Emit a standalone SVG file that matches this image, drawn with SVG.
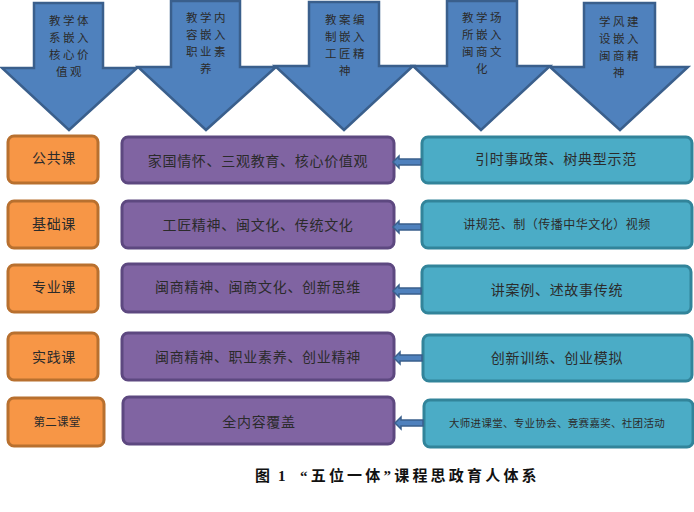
<svg xmlns="http://www.w3.org/2000/svg" width="694" height="512" viewBox="0 0 694 512">
<style>
.ar{fill:#4F81BD;stroke:#3A5F8C;stroke-width:2.5;stroke-linejoin:miter}
.t{font-family:"Noto Sans CJK SC","Liberation Sans",sans-serif;fill:#2b2b2b;text-anchor:middle}
.at{font-size:11.5px;letter-spacing:2.5px}
.or{fill:#F79646;stroke:#B8702F;stroke-width:3}
.pu{fill:#8064A2;stroke:#5D4880;stroke-width:3}
.te{fill:#4BACC6;stroke:#32849A;stroke-width:3}
.la{fill:#4F81BD;stroke:#3A5F8C;stroke-width:1.5}
.bt{font-size:14px;letter-spacing:0.7px}
</style>
<rect width="694" height="512" fill="#fff"/>
<g id="arrow1"><polygon class="ar" points="34,3 103,3 103,68 137,68 69,130 2,68 34,68"/>
<text class="t at"><tspan x="70" y="25">教学体</tspan><tspan x="70" y="42">系嵌入</tspan><tspan x="70" y="59">核心价</tspan><tspan x="70" y="76">值观</tspan></text></g>
<g id="arrow2"><polygon class="ar" points="171,1 240,1 240,67 276,67 206,130 138,67 171,67"/>
<text class="t at"><tspan x="207" y="22">教学内</tspan><tspan x="207" y="39">容嵌入</tspan><tspan x="207" y="56">职业素</tspan><tspan x="207" y="73">养</tspan></text></g>
<g id="arrow3"><polygon class="ar" points="309,2 379,2 379,66 413,66 344,130 275,66 309,66"/>
<text class="t at"><tspan x="346" y="24">教案编</tspan><tspan x="346" y="41">制嵌入</tspan><tspan x="346" y="58">工匠精</tspan><tspan x="346" y="75">神</tspan></text></g>
<g id="arrow4"><polygon class="ar" points="447,1 517,1 517,66 550,66 481,130 413,66 447,66"/>
<text class="t at"><tspan x="483" y="22">教学场</tspan><tspan x="483" y="39">所嵌入</tspan><tspan x="483" y="56">闽商文</tspan><tspan x="483" y="73">化</tspan></text></g>
<g id="arrow5"><polygon class="ar" points="584,3 655,3 655,67 688,67 620,130 550,67 584,67"/>
<text class="t at"><tspan x="620" y="26">学风建</tspan><tspan x="620" y="43">设嵌入</tspan><tspan x="620" y="60">闽商精</tspan><tspan x="620" y="77">神</tspan></text></g>

<g id="course1"><rect class="or" x="8" y="136" width="90" height="47" rx="6"/><text class="t bt" x="54" y="163">公共课</text></g>
<g id="course2"><rect class="or" x="8" y="201" width="90" height="47" rx="6"/><text class="t bt" x="54" y="229">基础课</text></g>
<g id="course3"><rect class="or" x="8" y="265" width="90" height="47" rx="6"/><text class="t bt" x="54" y="292">专业课</text></g>
<g id="course4"><rect class="or" x="8" y="333" width="90" height="47" rx="6"/><text class="t bt" x="54" y="362">实践课</text></g>
<g id="course5"><rect class="or" x="8" y="398" width="96" height="48" rx="6"/><text class="t" style="font-size:11.5px;letter-spacing:0.3px" x="57" y="426">第二课堂</text></g>

<g id="content1"><rect class="pu" x="122" y="137" width="272" height="46" rx="6"/><text class="t bt" x="258" y="166">家国情怀、三观教育、核心价值观</text></g>
<g id="content2"><rect class="pu" x="122" y="201" width="272" height="47" rx="6"/><text class="t bt" x="258" y="230">工匠精神、闽文化、传统文化</text></g>
<g id="content3"><rect class="pu" x="122" y="264" width="272" height="48" rx="6"/><text class="t bt" x="258" y="292">闽商精神、闽商文化、创新思维</text></g>
<g id="content4"><rect class="pu" x="122" y="333" width="272" height="47" rx="6"/><text class="t bt" x="258" y="362">闽商精神、职业素养、创业精神</text></g>
<g id="content5"><rect class="pu" x="123" y="397" width="271" height="47" rx="6"/><text class="t bt" x="259" y="427">全内容覆盖</text></g>

<g id="method1"><rect class="te" x="422" y="137" width="270" height="46" rx="6"/><text class="t bt" x="556" y="164">引时事政策、树典型示范</text></g>
<g id="method2"><rect class="te" x="422" y="201" width="270" height="47" rx="6"/><text class="t" style="font-size:12px;letter-spacing:0.5px" x="557" y="229">讲规范、制（传播中华文化）视频</text></g>
<g id="method3"><rect class="te" x="422" y="266" width="269" height="47" rx="6"/><text class="t bt" x="557" y="295">讲案例、述故事传统</text></g>
<g id="method4"><rect class="te" x="423" y="335" width="269" height="46" rx="6"/><text class="t bt" x="557" y="363">创新训练、创业模拟</text></g>
<g id="method5"><rect class="te" x="424" y="400" width="269" height="47" rx="6"/><text class="t" style="font-size:10.5px;letter-spacing:0.3px" x="557" y="427">大师进课堂、专业协会、竞赛嘉奖、社团活动</text></g>

<g id="connectors">
<polygon class="la" points="421,159 399,159 399,156 393,162 399,168 399,165 421,165"/>
<polygon class="la" points="421,224 399,224 399,221 393,227 399,233 399,230 421,230"/>
<polygon class="la" points="421,288 399,288 399,285 393,291 399,297 399,294 421,294"/>
<polygon class="la" points="422,355 400,355 400,352 394,358 400,364 400,361 422,361"/>
<polygon class="la" points="423,420 401,420 401,417 395,423 401,429 401,426 423,426"/>
</g>

<text y="481" style="font-family:'Liberation Serif','Noto Sans CJK SC',serif;font-size:15px;font-weight:bold;fill:#111"><tspan x="255">图</tspan><tspan x="278">1</tspan><tspan x="300" style="letter-spacing:3.2px">“五位一体”课程思政育人体系</tspan></text>
</svg>
